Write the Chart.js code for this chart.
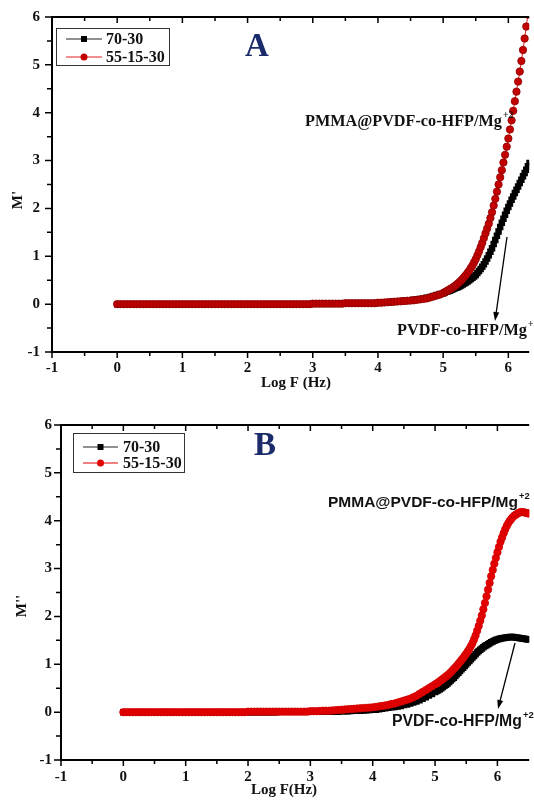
<!DOCTYPE html>
<html>
<head>
<meta charset="utf-8">
<script src="https://cdn.jsdelivr.net/npm/chart.js@4.4.1/dist/chart.umd.min.js"></script>
<style>
    body { margin: 0; background: #fff; }
    .panel { position: absolute; left: 0; }
    canvas { display: block; }
</style>
</head>
<body>
<div class="panel" style="top:0"><canvas id="chartA" width="534" height="400"></canvas></div>
<div class="panel" style="top:400px"><canvas id="chartB" width="534" height="401"></canvas></div>
<script>
// log10 of frequency (Hz), shared by both panels
const logF = [
    0.0, 0.05, 0.1, 0.15, 0.2, 0.25, 0.3, 0.35, 0.4, 0.45,
    0.5, 0.55, 0.6, 0.65, 0.7, 0.75, 0.8, 0.85, 0.9, 0.95,
    1.0, 1.05, 1.1, 1.15, 1.2, 1.25, 1.3, 1.35, 1.4, 1.45,
    1.5, 1.55, 1.6, 1.65, 1.7, 1.75, 1.8, 1.85, 1.9, 1.95,
    2.0, 2.05, 2.1, 2.15, 2.2, 2.25, 2.3, 2.35, 2.4, 2.45,
    2.5, 2.55, 2.6, 2.65, 2.7, 2.75, 2.8, 2.85, 2.9, 2.95,
    3.0, 3.05, 3.1, 3.15, 3.2, 3.25, 3.3, 3.35, 3.4, 3.45,
    3.5, 3.55, 3.6, 3.65, 3.7, 3.75, 3.8, 3.85, 3.9, 3.95,
    4.0, 4.05, 4.1, 4.15, 4.2, 4.25, 4.3, 4.35, 4.4, 4.45,
    4.5, 4.55, 4.6, 4.65, 4.7, 4.75, 4.8, 4.85, 4.9, 4.95,
    5.0,
    5.025, 5.05, 5.075, 5.1,   5.125, 5.15, 5.175, 5.2,
    5.225, 5.25, 5.275, 5.3,   5.325, 5.35, 5.375, 5.4,
    5.425, 5.45, 5.475, 5.5,   5.525, 5.55, 5.575, 5.6,
    5.625, 5.65, 5.675, 5.7,   5.725, 5.75, 5.775, 5.8,
    5.825, 5.85, 5.875, 5.9,   5.925, 5.95, 5.975, 6.0,
    6.025, 6.05, 6.075, 6.1,   6.125, 6.15, 6.175, 6.2,
    6.225, 6.25, 6.275, 6.3,   6.325, 6.35, 6.375, 6.4,
    6.425, 6.45, 6.475, 6.5
];

const seriesNames = ['70-30', '55-15-30'];

// panel A : M'
const mReal_70_30 = [
    0, 0, 0, 0, 0, 0, 0, 0, 0, 0,
    0, 0, 0, 0, 0, 0, 0, 0, 0, 0,
    0, 0, 0, 0, 0, 0, 0, 0, 0, 0,
    0, 0, 0, 0, 0, 0, 0, 0, 0, 0,
    0, 0, 0, 0, 0, 0, 0, 0, 0, 0,
    0, 0, 0, 0, 0, 0, 0, 0, 0, 0,
    0.01, 0.01, 0.01, 0.01, 0.01, 0.01, 0.01, 0.01, 0.01, 0.01,
    0.02, 0.02, 0.02, 0.02, 0.02, 0.02, 0.02, 0.02, 0.02, 0.02,
    0.03, 0.03, 0.035, 0.04, 0.045, 0.05, 0.055, 0.06, 0.07, 0.075,
    0.08, 0.09, 0.10, 0.11, 0.12, 0.135, 0.15, 0.17, 0.19, 0.21,
    0.23,
    0.245, 0.26, 0.27, 0.28,   0.295, 0.31, 0.325, 0.34,
    0.355, 0.37, 0.39, 0.41,   0.43, 0.45, 0.475, 0.50,
    0.525, 0.55, 0.58, 0.61,   0.65, 0.69, 0.735, 0.78,
    0.835, 0.89, 0.955, 1.02,  1.095, 1.17, 1.255, 1.34,
    1.43, 1.52, 1.61, 1.70,    1.785, 1.87, 1.95, 2.03,
    2.105, 2.18, 2.25, 2.32,   2.39, 2.46, 2.53, 2.60,
    2.67, 2.74, 2.81, 2.88,    2.95, 3.02, 3.09, 3.16,
    3.23, 3.30, 3.37, 3.44
];
const mReal_55_15_30 = [
    0, 0, 0, 0, 0, 0, 0, 0, 0, 0,
    0, 0, 0, 0, 0, 0, 0, 0, 0, 0,
    0, 0, 0, 0, 0, 0, 0, 0, 0, 0,
    0, 0, 0, 0, 0, 0, 0, 0, 0, 0,
    0, 0, 0, 0, 0, 0, 0, 0, 0, 0,
    0, 0, 0, 0, 0, 0, 0, 0, 0, 0,
    0.01, 0.01, 0.01, 0.01, 0.01, 0.01, 0.01, 0.01, 0.01, 0.01,
    0.02, 0.02, 0.02, 0.02, 0.02, 0.02, 0.02, 0.02, 0.02, 0.02,
    0.03, 0.03, 0.035, 0.04, 0.045, 0.05, 0.055, 0.06, 0.065, 0.07,
    0.075, 0.08, 0.09, 0.10, 0.11, 0.12, 0.14, 0.16, 0.18, 0.20,
    0.23,
    0.25, 0.27, 0.29, 0.31,    0.33, 0.35, 0.375, 0.40,
    0.43, 0.46, 0.495, 0.53,   0.57, 0.61, 0.655, 0.70,
    0.755, 0.81, 0.875, 0.94,  1.02, 1.10, 1.19, 1.28,
    1.38, 1.48, 1.58, 1.68,    1.80, 1.92, 2.06, 2.20,
    2.35, 2.50, 2.65, 2.80,    2.96, 3.12, 3.29, 3.46,
    3.65, 3.84, 4.04, 4.24,    4.44, 4.65, 4.86, 5.08,
    5.31, 5.55, 5.80, 6.05,    6.30, 6.55, 6.80, 7.05,
    7.30, 7.55, 7.80, 8.05
];

// panel B : M''
const mImag_70_30 = [
    0, 0, 0, 0, 0, 0, 0, 0, 0, 0,
    0, 0, 0, 0, 0, 0, 0, 0, 0, 0,
    0, 0, 0, 0, 0, 0, 0, 0, 0, 0,
    0, 0, 0, 0, 0, 0, 0, 0, 0, 0,
    0, 0, 0, 0, 0, 0, 0, 0, 0, 0,
    0.01, 0.01, 0.01, 0.01, 0.01, 0.01, 0.01, 0.01, 0.01, 0.01,
    0.01, 0.01, 0.01, 0.01, 0.01, 0.01, 0.01, 0.01, 0.01, 0.01,
    0.02, 0.02, 0.02, 0.025, 0.03, 0.03, 0.03, 0.035, 0.04, 0.045,
    0.05, 0.05, 0.06, 0.07, 0.08, 0.09, 0.10, 0.11, 0.12, 0.13,
    0.15, 0.16, 0.18, 0.20, 0.22, 0.25, 0.28, 0.31, 0.35, 0.38,
    0.42,
    0.44, 0.46, 0.48, 0.50,    0.525, 0.55, 0.575, 0.60,
    0.63, 0.66, 0.69, 0.72,    0.755, 0.79, 0.825, 0.86,
    0.895, 0.93, 0.965, 1.00,  1.035, 1.07, 1.105, 1.14,
    1.175, 1.21, 1.245, 1.28,  1.305, 1.33, 1.355, 1.38,
    1.40, 1.42, 1.44, 1.46,    1.475, 1.49, 1.505, 1.52,
    1.53, 1.54, 1.545, 1.55,   1.555, 1.56, 1.565, 1.57,
    1.57, 1.57, 1.565, 1.56,   1.555, 1.55, 1.545, 1.54,
    1.535, 1.53, 1.525, 1.52
];
const mImag_55_15_30 = [
    0, 0, 0, 0, 0, 0, 0, 0, 0, 0,
    0, 0, 0, 0, 0, 0, 0, 0, 0, 0,
    0, 0, 0, 0, 0, 0, 0, 0, 0, 0,
    0, 0, 0, 0, 0, 0, 0, 0, 0, 0,
    0.01, 0.01, 0.01, 0.01, 0.01, 0.01, 0.01, 0.01, 0.01, 0.01,
    0.01, 0.01, 0.01, 0.01, 0.01, 0.01, 0.01, 0.01, 0.01, 0.01,
    0.02, 0.02, 0.02, 0.025, 0.03, 0.03, 0.03, 0.035, 0.04, 0.045,
    0.05, 0.055, 0.06, 0.065, 0.07, 0.075, 0.08, 0.085, 0.09, 0.095,
    0.10, 0.11, 0.12, 0.13, 0.14, 0.15, 0.17, 0.18, 0.20, 0.22,
    0.24, 0.26, 0.28, 0.31, 0.34, 0.38, 0.42, 0.46, 0.50, 0.54,
    0.58,
    0.60, 0.62, 0.645, 0.67,   0.695, 0.72, 0.745, 0.77,
    0.80, 0.83, 0.865, 0.90,   0.935, 0.97, 1.01, 1.05,
    1.09, 1.13, 1.175, 1.22,   1.27, 1.32, 1.38, 1.44,
    1.52, 1.60, 1.70, 1.80,    1.91, 2.02, 2.15, 2.28,
    2.42, 2.56, 2.70, 2.84,    2.97, 3.10, 3.22, 3.34,
    3.45, 3.56, 3.65, 3.74,    3.82, 3.89, 3.95, 4.00,
    4.04, 4.08, 4.11, 4.13,    4.15, 4.17, 4.18, 4.18,
    4.175, 4.17, 4.16, 4.15
];

const xTicks = [-1, 0, 1, 2, 3, 4, 5, 6];
const yTicks = [-1, 0, 1, 2, 3, 4, 5, 6];

const SERIF = '"Liberation Serif", "Times New Roman", serif';
const SANS = '"Liberation Sans", Arial, sans-serif';

function toPoints(values) {
    return logF.map((x, i) => ({ x: x, y: values[i] }));
}

function fitSize(ctx, text, width, family) {
    ctx.font = 'bold 20px ' + family;
    return 20 * width / ctx.measureText(text).width;
}

// text followed by a raised "+2"
function drawIonLabel(ctx, text, x, y, width, family) {
    const size = fitSize(ctx, text, width, family);
    ctx.font = 'bold ' + size + 'px ' + family;
    ctx.textAlign = 'left';
    ctx.textBaseline = 'middle';
    ctx.fillText(text, x, y);
    ctx.font = 'bold ' + (size * 0.6) + 'px ' + family;
    ctx.fillText('+2', x + width + 1, y - size * 0.42);
}

function drawArrow(ctx, x0, y0, x1, y1) {
    const ang = Math.atan2(y1 - y0, x1 - x0);
    ctx.strokeStyle = '#000';
    ctx.lineWidth = 1.3;
    ctx.beginPath();
    ctx.moveTo(x0, y0);
    ctx.lineTo(x1 - 6 * Math.cos(ang), y1 - 6 * Math.sin(ang));
    ctx.stroke();
    ctx.fillStyle = '#000';
    ctx.beginPath();
    ctx.moveTo(x1, y1);
    ctx.lineTo(x1 - 9 * Math.cos(ang) + 3 * Math.sin(ang), y1 - 9 * Math.sin(ang) - 3 * Math.cos(ang));
    ctx.lineTo(x1 - 9 * Math.cos(ang) - 3 * Math.sin(ang), y1 - 9 * Math.sin(ang) + 3 * Math.cos(ang));
    ctx.closePath();
    ctx.fill();
}

function panelPlugin(p) {
    return {
        id: 'panel' + p.letter,
        afterDraw(chart) {
            const ctx = chart.ctx;
            const a = chart.chartArea;
            const sx = chart.scales.x;
            const sy = chart.scales.y;
            ctx.save();

            // frame (right side falls outside the picture)
            ctx.strokeStyle = '#000';
            ctx.lineWidth = 2;
            ctx.beginPath();
            ctx.moveTo(a.left, a.top);
            ctx.lineTo(a.right, a.top);
            ctx.moveTo(a.left, a.top - 1);
            ctx.lineTo(a.left, a.bottom + 1);
            ctx.moveTo(a.left, a.bottom);
            ctx.lineTo(a.right, a.bottom);
            ctx.stroke();

            // major and minor ticks
            ctx.lineWidth = 1.5;
            ctx.beginPath();
            for (let v = -1; v <= 6.01; v += 0.5) {
                const len = Number.isInteger(v) ? 6 : 4;
                const px = sx.getPixelForValue(v);
                ctx.moveTo(px, a.bottom);
                ctx.lineTo(px, a.bottom + len);
                ctx.moveTo(px, a.top);
                ctx.lineTo(px, a.top + len);
                const py = sy.getPixelForValue(v);
                ctx.moveTo(a.left - len - 1, py);
                ctx.lineTo(a.left, py);
            }
            ctx.stroke();

            // tick labels
            ctx.fillStyle = '#111';
            ctx.font = 'bold 15px ' + SERIF;
            ctx.textAlign = 'center';
            ctx.textBaseline = 'middle';
            xTicks.forEach(v => ctx.fillText(String(v), sx.getPixelForValue(v), p.xLabelY));
            ctx.textAlign = 'right';
            yTicks.forEach(v => ctx.fillText(String(v), a.left - p.yLabelGap, sy.getPixelForValue(v)));

            // axis titles
            ctx.font = 'bold 15px ' + SERIF;
            ctx.textAlign = 'center';
            ctx.fillText(p.xTitle, p.xTitleX, p.xTitleY);
            ctx.save();
            ctx.translate(p.yTitleX, p.yTitleY);
            ctx.rotate(-Math.PI / 2);
            ctx.fillText(p.yTitle, 0, 0);
            ctx.restore();

            // panel letter
            ctx.fillStyle = '#1b2a6b';
            ctx.font = 'bold 33px ' + SERIF;
            ctx.fillText(p.letter, p.letterX, p.letterY);

            // legend box
            const lg = p.legend;
            ctx.strokeStyle = '#333';
            ctx.lineWidth = 1;
            ctx.strokeRect(lg.x + 0.5, lg.y + 0.5, lg.w, lg.h);
            lg.rows.forEach((row, i) => {
                const ds = chart.data.datasets[i];
                const mid = (lg.lineX0 + lg.lineX1) / 2;
                ctx.strokeStyle = ds.borderColor;
                ctx.lineWidth = 1;
                ctx.beginPath();
                ctx.moveTo(lg.lineX0, row);
                ctx.lineTo(lg.lineX1, row);
                ctx.stroke();
                ctx.fillStyle = ds.pointBackgroundColor;
                if (ds.pointStyle === 'rect') {
                    ctx.fillRect(mid - 3, row - 3, 6, 6);
                } else {
                    ctx.beginPath();
                    ctx.arc(mid, row, 3.5, 0, Math.PI * 2);
                    ctx.fill();
                }
                ctx.fillStyle = '#111';
                ctx.font = 'bold 16px ' + SERIF;
                ctx.textAlign = 'left';
                ctx.textBaseline = 'middle';
                ctx.fillText(seriesNames[i], lg.textX, row + 1);
            });

            // annotations
            ctx.fillStyle = '#111';
            drawIonLabel(ctx, 'PMMA@PVDF-co-HFP/Mg', p.top.x, p.top.y, p.top.w, p.labelFont);
            drawIonLabel(ctx, 'PVDF-co-HFP/Mg', p.low.x, p.low.y, p.low.w, p.labelFont);
            drawArrow(ctx, p.arrow[0], p.arrow[1], p.arrow[2], p.arrow[3]);

            ctx.restore();
        }
    };
}

function makeChart(canvasId, blackValues, redValues, p) {
    const ctx = document.getElementById(canvasId).getContext('2d');
    return new Chart(ctx, {
        type: 'scatter',
        data: {
            datasets: [
                {
                    label: seriesNames[0],
                    data: toPoints(blackValues),
                    showLine: true,
                    borderColor: '#222',
                    borderWidth: 1,
                    pointStyle: 'rect',
                    pointRadius: 4.6,
                    pointBackgroundColor: '#000',
                    pointBorderColor: '#000',
                    pointBorderWidth: 0,
                    order: 1
                },
                {
                    label: seriesNames[1],
                    data: toPoints(redValues),
                    showLine: true,
                    borderColor: p.redLine,
                    borderWidth: 1,
                    pointStyle: 'circle',
                    pointRadius: 3.7,
                    pointBackgroundColor: p.redFill,
                    pointBorderColor: p.redEdge,
                    pointBorderWidth: 0.8,
                    order: 0
                }
            ]
        },
        options: {
            responsive: false,
            animation: false,
            layout: { padding: p.padding },
            plugins: {
                legend: { display: false },
                tooltip: { enabled: false }
            },
            scales: {
                x: { type: 'linear', min: -1, max: p.xMax, display: false },
                y: { type: 'linear', min: -1, max: 6, display: false }
            }
        },
        plugins: [panelPlugin(p)]
    });
}

makeChart('chartA', mReal_70_30, mReal_55_15_30, {
    letter: 'A', letterX: 257, letterY: 47,
    padding: { left: 52, top: 17, right: 0, bottom: 48 },
    xMax: 6.32,
    xLabelY: 368, yLabelGap: 12,
    xTitle: 'Log F (Hz)', xTitleX: 296, xTitleY: 383,
    yTitle: "M'", yTitleX: 18, yTitleY: 200,
    legend: { x: 56, y: 28, w: 113, h: 37, rows: [39, 57], lineX0: 66, lineX1: 102, textX: 106 },
    labelFont: SERIF,
    top: { x: 305, y: 122, w: 197 },
    low: { x: 397, y: 331, w: 130 },
    arrow: [507, 237, 495, 321],
    redFill: '#c20000', redEdge: '#8e0000', redLine: '#e02020'
});

makeChart('chartB', mImag_70_30, mImag_55_15_30, {
    letter: 'B', letterX: 265, letterY: 46,
    padding: { left: 61, top: 25, right: 0, bottom: 41 },
    xMax: 6.51,
    xLabelY: 377, yLabelGap: 9,
    xTitle: 'Log F(Hz)', xTitleX: 284, xTitleY: 390,
    yTitle: "M''", yTitleX: 22, yTitleY: 206,
    legend: { x: 73, y: 33, w: 111, h: 39, rows: [47, 63], lineX0: 83, lineX1: 118, textX: 123 },
    labelFont: SANS,
    top: { x: 328, y: 103, w: 190 },
    low: { x: 392, y: 322, w: 130 },
    arrow: [515, 243, 498, 309],
    redFill: '#e30000', redEdge: '#d00000', redLine: '#e30000'
});
</script>
</body>
</html>
